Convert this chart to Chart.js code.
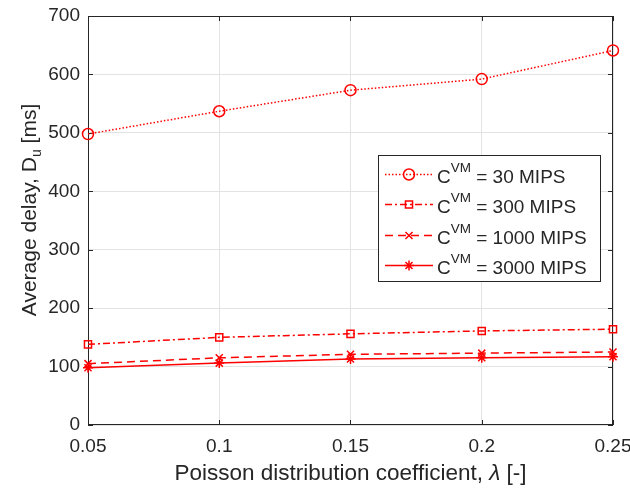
<!DOCTYPE html>
<html>
<head>
<meta charset="utf-8">
<script src="https://cdn.jsdelivr.net/npm/chart.js@4"></script>
<style>
  html, body { margin: 0; padding: 0; background: #fff; }
  #wrap { position: relative; width: 630px; height: 488px; }
</style>
</head>
<body>
<div id="wrap"><canvas id="chart" width="630" height="488"></canvas></div>
<script>
const lambdas = [0.05, 0.1, 0.15, 0.2, 0.25];
const xTicks = [0.05, 0.1, 0.15, 0.2, 0.25];
const yTicks = [0, 100, 200, 300, 400, 500, 600, 700];

const delay30 = [498, 537, 573, 592, 641];
const delay300 = [138, 150, 156, 161, 164];
const delay1000 = [105, 115, 121, 123, 125];
const delay3000 = [98, 106, 113, 115, 117];

const seriesNames = ['30 MIPS', '300 MIPS', '1000 MIPS', '3000 MIPS'];

const RED = '#ff0000';
const INK = '#262626';
const FONT = '"Liberation Sans", Arial, sans-serif';

const STYLES = [
  { dash: [1.5, 2], point: 'circle', radius: 5.5 },
  { dash: [7, 3, 2, 3], point: 'rect', radius: 5 },
  { dash: [8, 5], point: 'crossRot', radius: 5 },
  { dash: [], point: 'star', radius: 5 },
];

function pairs(values) {
  return values.map((y, i) => ({ x: lambdas[i], y }));
}

const datasets = [delay30, delay300, delay1000, delay3000].map((values, i) => ({
  label: seriesNames[i],
  data: pairs(values),
  borderColor: RED,
  backgroundColor: 'rgba(0,0,0,0)',
  borderWidth: 1.5,
  borderDash: STYLES[i].dash,
  pointStyle: STYLES[i].point,
  pointRadius: STYLES[i].radius,
  pointBorderColor: RED,
  pointBorderWidth: 1.5,
  pointBackgroundColor: 'rgba(0,0,0,0)',
  tension: 0,
  clip: false,
}));

// text with a raised / lowered part, drawn left to right
function richText(ctx, parts, x, y) {
  let cx = x;
  for (const p of parts) {
    ctx.font = p.font;
    ctx.fillText(p.text, cx, y + (p.dy || 0));
    cx += ctx.measureText(p.text).width;
  }
}
function richWidth(ctx, parts) {
  return parts.reduce((w, p) => { ctx.font = p.font; return w + ctx.measureText(p.text).width; }, 0);
}

// box, inside ticks, axis titles, legend with superscripts
const decor = {
  id: 'decor',
  beforeDatasetsDraw(chart) {
    const { ctx, chartArea: a, scales } = chart;
    ctx.save();
    ctx.strokeStyle = INK;
    ctx.lineWidth = 1;
    ctx.strokeRect(a.left + 0.5, a.top + 0.5, a.right - a.left - 1, a.bottom - a.top - 1);

    // inside tick marks
    ctx.beginPath();
    for (const v of xTicks) {
      const x = Math.round(scales.x.getPixelForValue(v)) + 0.5;
      ctx.moveTo(x, a.bottom); ctx.lineTo(x, a.bottom - 5);
      ctx.moveTo(x, a.top); ctx.lineTo(x, a.top + 5);
    }
    for (const v of yTicks) {
      const y = Math.round(scales.y.getPixelForValue(v)) + 0.5;
      ctx.moveTo(a.left, y); ctx.lineTo(a.left + 5, y);
      ctx.moveTo(a.right, y); ctx.lineTo(a.right - 5, y);
    }
    ctx.stroke();
    ctx.restore();
  },
  afterDraw(chart) {
    const { ctx, chartArea: a } = chart;
    ctx.save();
    ctx.fillStyle = INK;
    ctx.textBaseline = 'alphabetic';

    // x title
    const xParts = [
      { text: 'Poisson distribution coefficient, ', font: `22.5px ${FONT}` },
      { text: 'λ', font: `italic 22.5px ${FONT}` },
      { text: ' [-]', font: `22.5px ${FONT}` },
    ];
    richText(ctx, xParts, (a.left + a.right) / 2 - richWidth(ctx, xParts) / 2, 480);

    // y title
    ctx.save();
    ctx.translate(36, 210);
    ctx.rotate(-Math.PI / 2);
    const yParts = [
      { text: 'Average delay, D', font: `21px ${FONT}` },
      { text: 'u', font: `14px ${FONT}`, dy: 5 },
      { text: ' [ms]', font: `21px ${FONT}` },
    ];
    richText(ctx, yParts, -richWidth(ctx, yParts) / 2, 0);
    ctx.restore();

    // legend
    const bx = 378, by = 155, bw = 222, bh = 126;
    ctx.fillStyle = '#fff';
    ctx.fillRect(bx, by, bw, bh);
    ctx.strokeStyle = INK;
    ctx.lineWidth = 1;
    ctx.strokeRect(bx + 0.5, by + 0.5, bw, bh);
    const rows = [174, 204, 235, 265];
    datasets.forEach((ds, i) => {
      const ry = rows[i] + 0.5;
      ctx.strokeStyle = RED;
      ctx.lineWidth = 1.5;
      ctx.setLineDash(ds.borderDash);
      ctx.beginPath();
      ctx.moveTo(385, ry); ctx.lineTo(433, ry);
      ctx.stroke();
      ctx.setLineDash([]);
      ctx.fillStyle = 'rgba(0,0,0,0)';
      Chart.helpers.drawPoint(ctx, {
        pointStyle: ds.pointStyle, radius: ds.pointRadius, borderWidth: 1.5,
      }, 409, ry);
      ctx.fillStyle = INK;
      ctx.textBaseline = 'middle';
      richText(ctx, [
        { text: 'C', font: `19px ${FONT}`, dy: 3 },
        { text: 'VM', font: `13.5px ${FONT}`, dy: -6 },
        { text: ' = ' + ds.label, font: `19px ${FONT}`, dy: 3 },
      ], 437, ry);
    });
    ctx.restore();
  },
};

new Chart(document.getElementById('chart'), {
  type: 'line',
  data: { datasets },
  plugins: [decor],
  options: {
    responsive: false,
    animation: false,
    layout: { padding: { left: 0, right: 17, top: 16, bottom: 0 } },
    plugins: { legend: { display: false }, tooltip: { enabled: false } },
    scales: {
      x: {
        type: 'linear',
        min: 0.05,
        max: 0.25,
        afterBuildTicks: scale => { scale.ticks = xTicks.map(value => ({ value })); },
        afterFit: scale => { scale.height = 63; scale.paddingLeft = 0; scale.paddingRight = 0; },
        ticks: {
          color: INK,
          font: { family: FONT, size: 19 },
          padding: 10,
          maxRotation: 0,
          callback: value => String(Number(value.toFixed(2))),
        },
        grid: { color: '#e3e3e3', lineWidth: 1, drawTicks: false },
        border: { display: false },
      },
      y: {
        min: 0,
        max: 700,
        afterBuildTicks: scale => { scale.ticks = yTicks.map(value => ({ value })); },
        afterFit: scale => { scale.width = 88; scale.paddingTop = 0; scale.paddingBottom = 0; },
        ticks: {
          color: INK,
          font: { family: FONT, size: 19 },
          padding: 8,
        },
        grid: { color: '#e3e3e3', lineWidth: 1, drawTicks: false },
        border: { display: false },
      },
    },
  },
});
</script>
</body>
</html>
